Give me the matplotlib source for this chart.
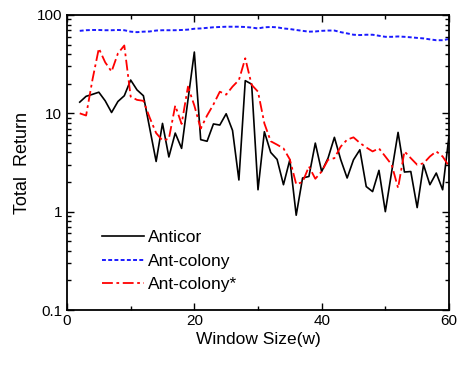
import matplotlib
matplotlib.use("Agg")
import matplotlib.pyplot as plt
from matplotlib.ticker import FixedLocator, FixedFormatter, LogLocator, NullFormatter, MultipleLocator

plt.rcParams['font.family'] = ['Liberation Sans', 'DejaVu Sans']

window = list(range(2, 61))

anticor = [13.0, 14.9, 15.6, 16.4, 13.4, 10.2, 13.2, 15.1, 21.8, 17.3,
           15.1, 7.0, 3.24, 7.9, 3.6, 6.3, 4.4, 13.7, 42.0, 5.4,
           5.2, 7.8, 7.6, 9.9, 6.7, 2.1, 21.5, 19.8, 1.67, 6.5,
           4.0, 3.4, 1.88, 3.37, 0.92, 2.2, 2.28, 4.98, 2.56, 3.5,
           5.7, 3.37, 2.2, 3.37, 4.26, 1.8, 1.6, 2.63, 1.0, 2.56,
           6.4, 2.53, 2.56, 1.1, 3.0, 1.88, 2.47, 1.67, 5.9]

ant_colony = [69, 70, 70.4, 70.4, 70, 70, 70.4, 70, 67.7, 66.9,
              67.7, 68, 69.5, 70, 70, 70, 70.4, 71, 72.5, 73,
              74, 75, 75.5, 76, 76, 76, 75.5, 74.5, 73, 75,
              75.5, 75, 73, 72, 70.4, 69, 67.7, 68, 69, 69.5,
              69.5, 66.9, 65, 63, 62.5, 63, 63, 61.5, 60, 60,
              60.5, 60, 59.3, 58.5, 57.8, 56.5, 55.4, 55.4, 57]

ant_colony_star = [10.0, 9.5, 22, 45.7, 33, 26.6, 40.7, 49, 14.8, 13.7,
                   13.4, 9.0, 6.3, 5.3, 5.5, 12.0, 7.8, 18.7, 12.0, 7.0,
                   9.5, 12.3, 16.6, 15.5, 18.7, 21.8, 36.3, 19.5, 16.6, 7.9,
                   5.2, 4.8, 4.4, 3.4, 1.9, 2.0, 2.88, 2.16, 2.56, 3.37,
                   3.5, 4.6, 5.4, 5.7, 5.0, 4.5, 4.1, 4.4, 3.64, 3.0,
                   1.74, 4.1, 3.5, 3.0, 3.1, 3.64, 4.1, 3.64, 2.9]

labels = ["Anticor", "Ant-colony", "Ant-colony*"]
y_ticks = [0.1, 1, 10, 100]
y_ticklabels = ["0.1", "1", "10", "100"]
x_ticks = [0, 20, 40, 60]

fig = plt.figure(figsize=(4.61, 3.68), dpi=100)
ax = fig.add_axes([67/461, 1-310/368, (449-67)/461, (310-15)/368])

ax.plot(window, anticor, color='black', lw=1.2, label=labels[0])
ax.plot(window, ant_colony, color='#1a1aff', lw=1.4, ls=(0, (2.0, 1.2)), label=labels[1])
ax.plot(window, ant_colony_star, color='red', lw=1.3, ls=(0, (6, 2, 1.5, 2)), label=labels[2])

ax.set_yscale('log')
ax.set_xlim(0, 60)
ax.set_ylim(0.1, 100)
ax.yaxis.set_major_locator(FixedLocator(y_ticks))
ax.yaxis.set_major_formatter(FixedFormatter(y_ticklabels))
ax.yaxis.set_minor_locator(LogLocator(base=10, subs=range(2, 10)))
ax.yaxis.set_minor_formatter(NullFormatter())
ax.xaxis.set_major_locator(FixedLocator(x_ticks))
ax.xaxis.set_minor_locator(MultipleLocator(10))

ax.tick_params(which='both', direction='in', top=True, right=True, labelsize=11, width=1.0)
ax.tick_params(which='major', length=5)
ax.tick_params(which='minor', length=3)
ax.tick_params(axis='x', which='major', pad=3)
for s in ax.spines.values():
    s.set_linewidth(1.3)

ax.set_xlabel("Window Size(w)", fontsize=12.5, labelpad=3)
ax.set_ylabel("Total  Return", fontsize=13, labelpad=4)

ax.legend(loc='lower left', bbox_to_anchor=(0.06, 0.02), frameon=False, fontsize=12.5,
          handlelength=2.4, handletextpad=0.25, labelspacing=0.47, borderpad=0.2)

fig.savefig("out.png", dpi=100)
